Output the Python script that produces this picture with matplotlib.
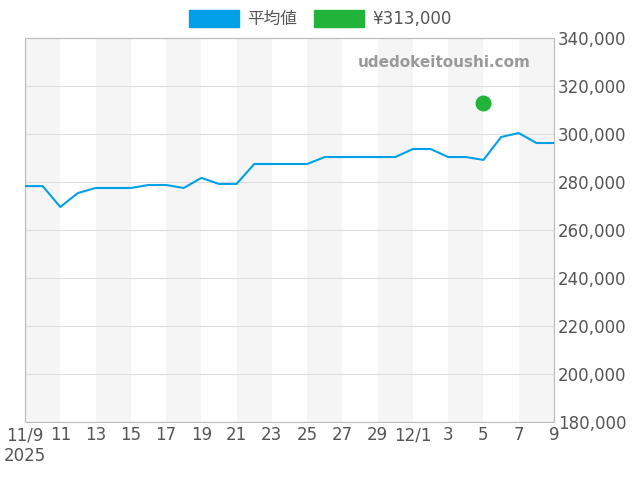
import matplotlib
matplotlib.use("Agg")
import matplotlib.pyplot as plt
from matplotlib.patches import Patch

plt.rcParams['font.family'] = ['DejaVu Sans', 'Noto Sans CJK JP']

days = list(range(31))
avg = [278300, 278300, 269600, 275400, 277500, 277500, 277500, 278750, 278750, 277500,
       281700, 279200, 279200, 287500, 287500, 287500, 287500, 290400, 290400, 290400,
       290400, 290400, 293750, 293750, 290400, 290400, 289200, 298750, 300400, 296250, 296250]
point_day = 26
point_val = 313000
tick_days = list(range(0, 31, 2))
tick_labels = ["11/9\n2025", "11", "13", "15", "17", "19", "21", "23", "25", "27", "29",
               "12/1", "3", "5", "7", "9"]
yticks = list(range(180000, 340001, 20000))

fig = plt.figure(figsize=(6.4, 4.8), dpi=100)
ax = fig.add_axes([25/640, 58/480, 529/640, 384/480])
for s in range(0, 30, 4):
    ax.axvspan(s, s + 2, color='#f5f5f5', lw=0, zorder=0)
ax.plot(days, avg, color='#00a0e9', lw=1.5, zorder=3)
ax.scatter([point_day], [point_val], s=110, color='#22b33a', zorder=4)
ax.set_xlim(0, 30)
ax.set_ylim(180000, 340000)
ax.set_xticks(tick_days)
ax.set_xticklabels(tick_labels, fontsize=12, color='#555555')
ax.set_yticks(yticks)
ax.set_yticklabels([f"{v:,}" for v in yticks], fontsize=12, color='#555555')
ax.yaxis.tick_right()
ax.tick_params(length=0, pad=3)
ax.grid(axis='y', color='#dddddd', lw=0.8)
for s in ax.spines.values():
    s.set_color('#bbbbbb')
ax.text(0.955, 0.935, "udedokeitoushi.com", transform=ax.transAxes, ha='right', va='center',
        fontsize=11, fontweight='bold', color='#999999')
handles = [Patch(color='#00a0e9', label='平均値'), Patch(color='#22b33a', label='¥313,000')]
fig.legend(handles=handles, loc='upper center', bbox_to_anchor=(0.5, 1.01), ncol=2, frameon=False,
           fontsize=12, handlelength=3, handleheight=1.2, handletextpad=0.5,
           columnspacing=1, labelcolor='#555555')
fig.savefig("out.png", dpi=100)
